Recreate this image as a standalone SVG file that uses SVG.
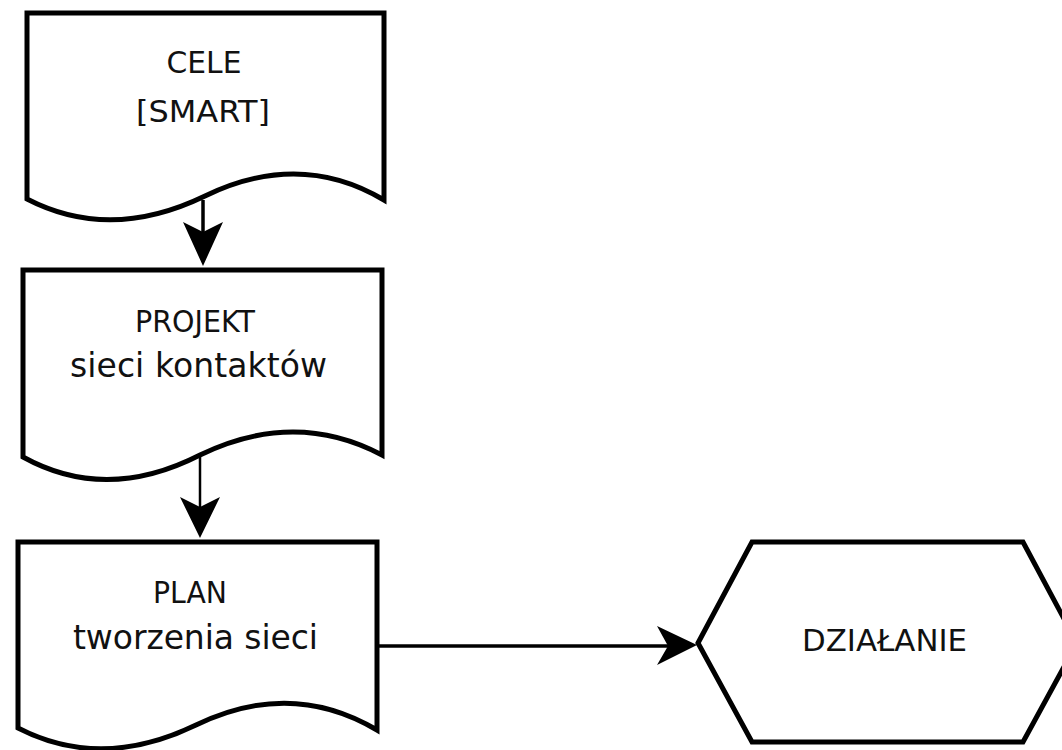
<svg xmlns="http://www.w3.org/2000/svg" width="1062" height="750" viewBox="0 0 1062 750">
<style>
.shape{fill:#fff;stroke:#000;stroke-width:5;stroke-linejoin:miter}
.lbl{font-family:"DejaVu Sans",sans-serif;font-size:30px;fill:#111;text-anchor:middle}
.big{font-size:33px}
.conn{stroke:#000;fill:none}
.head{fill:#000;stroke:none}
</style>
<rect width="1062" height="750" fill="#fff"/>
<g id="connectors">
<line class="conn" x1="203" y1="200" x2="203" y2="240" stroke-width="3.5"/>
<polygon class="head" points="183,222 203,232 223,222 203,266"/>
<line class="conn" x1="200" y1="457" x2="200" y2="512" stroke-width="2.5"/>
<polygon class="head" points="180,497 200,507 220,497 200,538"/>
<line class="conn" x1="379" y1="646" x2="670" y2="646" stroke-width="3.5"/>
<polygon class="head" points="657,626 668,646 657,665 697,645"/>
</g>
<g id="node-cele">
<path class="shape" d="M27,199 L27,13 L384,13 L384,200 Q300,150 205,196 Q110,242 27,199 Z"/>
<text class="lbl" x="204" y="73" textLength="75" lengthAdjust="spacingAndGlyphs">CELE</text>
<text class="lbl" x="203" y="122" font-size="32" textLength="134" lengthAdjust="spacingAndGlyphs">[SMART]</text>
</g>
<g id="node-projekt">
<path class="shape" d="M23,457 L23,270 L382,270 L382,455 Q295,409 200,455 Q106,503 23,457 Z"/>
<text class="lbl" x="195" y="332" textLength="120" lengthAdjust="spacingAndGlyphs">PROJEKT</text>
<text class="lbl big" x="198.5" y="377" textLength="257" lengthAdjust="spacing">sieci kontaktów</text>
</g>
<g id="node-plan">
<path class="shape" d="M18,728 L18,542 L377,542 L377,730 Q291,679 196,725 Q101,771 18,728 Z"/>
<text class="lbl" x="190" y="603" textLength="74" lengthAdjust="spacingAndGlyphs">PLAN</text>
<text class="lbl big" x="195.5" y="649" textLength="245" lengthAdjust="spacing">tworzenia sieci</text>
</g>
<g id="node-dzialanie">
<polygon class="shape" points="698,643 752,542 1023,542 1077,643 1023,742 752,742"/>
<text class="lbl" x="884.5" y="651" font-size="31" textLength="165" lengthAdjust="spacingAndGlyphs">DZIAŁANIE</text>
</g>
</svg>
